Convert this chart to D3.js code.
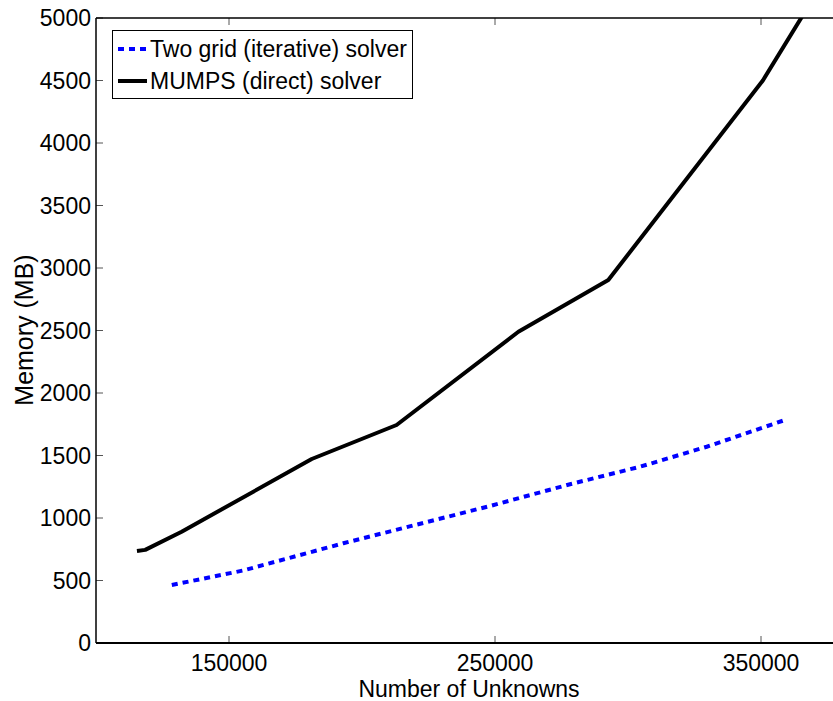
<!DOCTYPE html>
<html>
<head>
<meta charset="utf-8">
<script src="https://cdn.jsdelivr.net/npm/d3@7"></script>
<style>
  body { margin: 0; background: #fff; }
  text { font-family: "Liberation Sans", Arial, sans-serif; fill: #000; }
</style>
</head>
<body>
<div id="chart"></div>
<script>
// data
var iterX = [128500, 155300, 193000, 248100, 278200, 304500, 329600, 359000];
var iterY = [464, 580, 798, 1096, 1270, 1410, 1570, 1784];
var directX = [115400, 118500, 132200, 181100, 213000, 258800, 292600, 350700, 370000];
var directY = [736, 745, 890, 1472, 1744, 2490, 2904, 4500, 5170];
var xTicks = [150000, 250000, 350000];
var yTicks = [0, 500, 1000, 1500, 2000, 2500, 3000, 3500, 4000, 4500, 5000];
var seriesNames = ["Two grid (iterative) solver", "MUMPS (direct) solver"];

var width = 833,
    height = 701,
    plotLeft = 96,
    plotTop = 18,
    plotBottom = 643;

var x = d3.scaleLinear()
    .domain([100000, 400000])
    .range([plotLeft, plotLeft + 3 * 266]);
var y = d3.scaleLinear()
    .domain([0, 5000])
    .range([plotBottom, plotTop]);

var svg = d3.select("#chart").append("svg")
    .attr("width", width)
    .attr("height", height);

svg.append("defs").append("clipPath")
    .attr("id", "plotClip")
    .append("rect")
    .attr("x", plotLeft)
    .attr("y", plotTop)
    .attr("width", x.range()[1] - plotLeft)
    .attr("height", plotBottom - plotTop);

// tick marks inside the box
var tickLen = 7;
svg.selectAll(".ytick")
    .data(yTicks)
    .enter()
    .append("line")
    .attr("x1", plotLeft)
    .attr("x2", plotLeft + tickLen)
    .attr("y1", function (d) { return y(d); })
    .attr("y2", function (d) { return y(d); })
    .attr("stroke", "#555")
    .attr("stroke-width", 1);

svg.selectAll(".xtickb")
    .data(xTicks)
    .enter()
    .append("line")
    .attr("x1", function (d) { return x(d); })
    .attr("x2", function (d) { return x(d); })
    .attr("y1", plotBottom)
    .attr("y2", plotBottom - tickLen)
    .attr("stroke", "#555")
    .attr("stroke-width", 1);

svg.selectAll(".xtickt")
    .data(xTicks)
    .enter()
    .append("line")
    .attr("x1", function (d) { return x(d); })
    .attr("x2", function (d) { return x(d); })
    .attr("y1", plotTop)
    .attr("y2", plotTop + tickLen)
    .attr("stroke", "#555")
    .attr("stroke-width", 1);

// box lines
svg.append("line")
    .attr("x1", plotLeft).attr("x2", width)
    .attr("y1", plotTop).attr("y2", plotTop)
    .attr("stroke", "#000").attr("stroke-width", 1.5);
svg.append("line")
    .attr("x1", plotLeft).attr("x2", width)
    .attr("y1", plotBottom).attr("y2", plotBottom)
    .attr("stroke", "#000").attr("stroke-width", 2);
svg.append("line")
    .attr("x1", plotLeft).attr("x2", plotLeft)
    .attr("y1", plotTop).attr("y2", plotBottom)
    .attr("stroke", "#000").attr("stroke-width", 1.5);

// tick labels
svg.selectAll(".ylab")
    .data(yTicks)
    .enter()
    .append("text")
    .attr("x", plotLeft - 5)
    .attr("y", function (d) { return y(d); })
    .attr("dy", "0.36em")
    .attr("text-anchor", "end")
    .style("font-size", "23px")
    .text(function (d) { return d; });

svg.selectAll(".xlab")
    .data(xTicks)
    .enter()
    .append("text")
    .attr("x", function (d) { return x(d); })
    .attr("y", plotBottom + 28)
    .attr("text-anchor", "middle")
    .style("font-size", "23px")
    .text(function (d) { return d; });

// axis titles
svg.append("text")
    .attr("x", 469)
    .attr("y", 697)
    .attr("text-anchor", "middle")
    .style("font-size", "23px")
    .text("Number of Unknowns");

svg.append("text")
    .attr("transform", "translate(33," + 330 + ") rotate(-90)")
    .attr("text-anchor", "middle")
    .style("font-size", "25px")
    .text("Memory (MB)");

// lines
var iterData = iterX.map(function (d, i) { return [d, iterY[i]]; });
var directData = directX.map(function (d, i) { return [d, directY[i]]; });

var line = d3.line()
    .x(function (d) { return x(d[0]); })
    .y(function (d) { return y(d[1]); });

var plot = svg.append("g").attr("clip-path", "url(#plotClip)");

plot.append("path")
    .datum(iterData)
    .attr("d", line)
    .attr("fill", "none")
    .attr("stroke", "#0000ff")
    .attr("stroke-width", 4)
    .attr("stroke-dasharray", "6,5");

plot.append("path")
    .datum(directData)
    .attr("d", line)
    .attr("fill", "none")
    .attr("stroke", "#000")
    .attr("stroke-width", 4)
    .attr("stroke-linejoin", "round");

// legend
var legend = svg.append("g");
legend.append("rect")
    .attr("x", 112.5)
    .attr("y", 30.5)
    .attr("width", 300)
    .attr("height", 68)
    .attr("fill", "#fff")
    .attr("stroke", "#000")
    .attr("stroke-width", 1);

var legendItems = legend.selectAll(".item")
    .data(seriesNames)
    .enter()
    .append("g")
    .attr("transform", function (d, i) { return "translate(0," + (49 + i * 32) + ")"; });

legendItems.append("line")
    .attr("x1", 118)
    .attr("x2", 147)
    .attr("y1", 0)
    .attr("y2", 0)
    .attr("stroke", function (d, i) { return i == 0 ? "#0000ff" : "#000"; })
    .attr("stroke-width", 4)
    .attr("stroke-dasharray", function (d, i) { return i == 0 ? "6,5" : null; });

legendItems.append("text")
    .attr("x", 150)
    .attr("y", 0)
    .attr("dy", "0.36em")
    .style("font-size", "23px")
    .text(function (d) { return d; });
</script>
</body>
</html>
